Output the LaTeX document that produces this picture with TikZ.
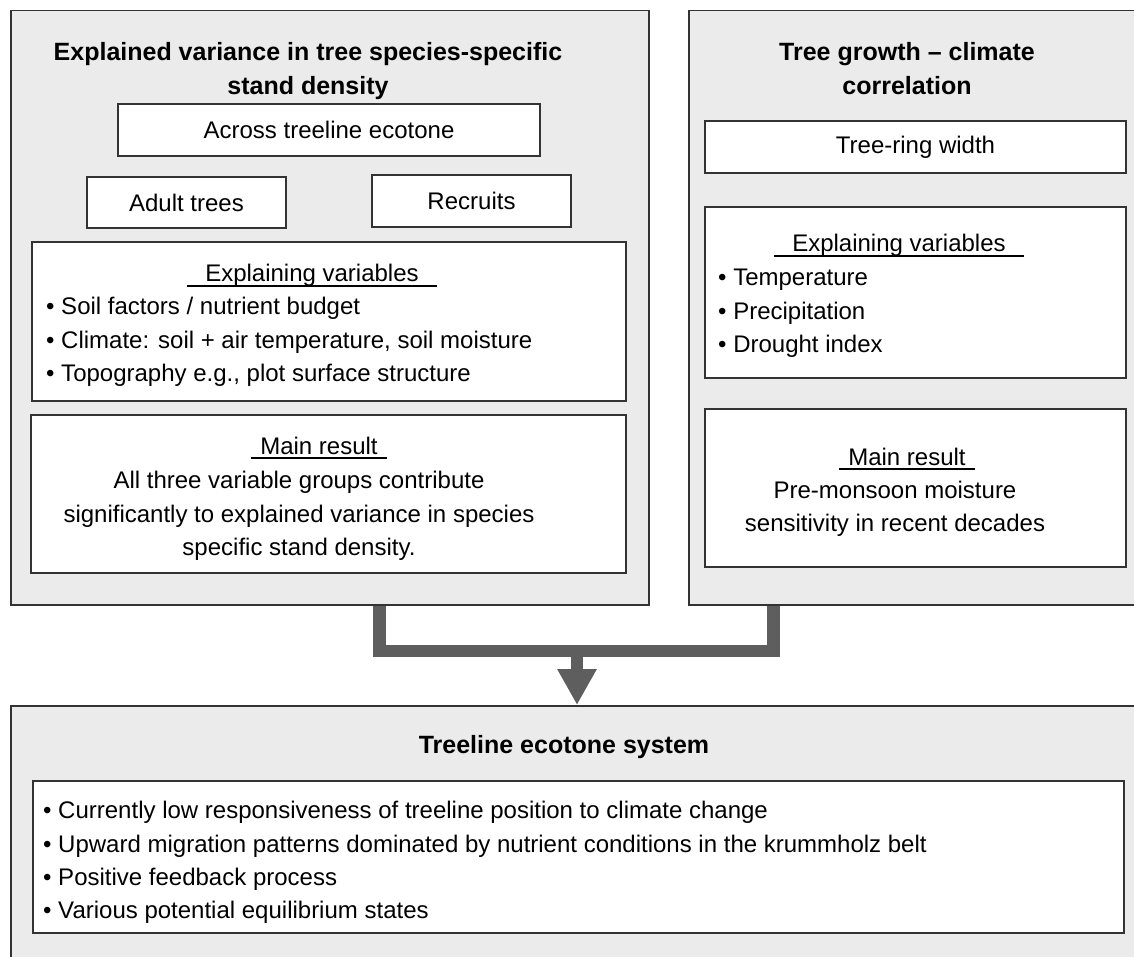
\documentclass[tikz,border=0pt]{standalone}
\usepackage{fontspec}
\setmainfont{Liberation Sans}
\usepackage{tikz}
\usetikzlibrary{arrows.meta}
\definecolor{panelgray}{HTML}{EBEBEB}
\definecolor{framegray}{HTML}{333333}
\definecolor{linkgray}{HTML}{5E5E5E}
% unterstrichene Ueberschrift mit Rand links/rechts
\newcommand{\ulabel}[2][9pt]{\setbox0\hbox{\hspace*{#1}#2\hspace*{#1}}\rlap{\rule[-5pt]{\wd0}{1.8pt}}\box0}

\begin{document}
\begin{tikzpicture}[x=1pt, y=-1pt,
    panel/.style={draw=framegray, line width=1.5pt, fill=panelgray, anchor=north west, inner sep=0pt},
    box/.style={draw=framegray, line width=2pt, fill=white, inner sep=0pt, font=\fontsize{24}{33}\selectfont},
    title/.style={font=\fontsize{25}{34}\selectfont\bfseries, align=center},
    head/.style={font=\fontsize{24}{33}\selectfont, anchor=base, inner sep=0pt},
    txt/.style={font=\fontsize{24}{33.3}\selectfont, align=left, anchor=west, inner sep=0pt},
    body/.style={font=\fontsize{24}{33.5}\selectfont, align=center, inner sep=0pt},
    link/.style={draw=linkgray, line width=12.5pt}]
    \useasboundingbox (0,0) rectangle (1134,957);
    \clip (0,0) rectangle (1134,957);

    % Panels
    \node[panel, minimum width=638pt, minimum height=594pt] (dens) at (10,10) {};
    \node[panel, minimum width=480pt, minimum height=594pt] (ring) at (688,10) {};
    \node[panel, minimum width=1150pt, minimum height=280pt] (sys) at (10,705) {};

    % linkes Panel
    \node[title] (denstitle) at (308,71.5) {Explained variance in tree species-specific\\stand density};
    \node[box, minimum width=422pt, minimum height=52pt] (across) at (329,130) {Across treeline ecotone};
    \node[box, minimum width=199pt, minimum height=51pt] (adult) at (186.5,202.5) {Adult trees};
    \node[box, minimum width=199pt, minimum height=52pt] (recruit) at (471.5,201) {Recruits};
    \node[box, minimum width=594pt, minimum height=159pt] (densvar) at (329,321.5) {};
    \node[head] (densvarhead) at (312,282) {\ulabel[18pt]{Explaining variables}};
    \node[txt] (densvarlist) at (46,342) {• Soil factors / nutrient budget\\• Climate: soil + air temperature, soil moisture\\• Topography e.g., plot surface structure};
    \node[box, minimum width=595pt, minimum height=158pt] (densres) at (328.5,494) {};
    \node[head] (densreshead) at (319,454) {\ulabel{Main result}};
    \node[body] (densrestext) at (299,516) {All three variable groups contribute\\significantly to explained variance in species\\specific stand density.};

    % rechtes Panel
    \node[title] (ringtitle) at (907,68.5) {Tree growth -- climate\\correlation};
    \node[box, minimum width=421pt, minimum height=52pt] (trw) at (915.5,147) {Tree-ring width};
    \node[box, minimum width=421pt, minimum height=171pt] (ringvar) at (915.5,292.5) {};
    \node[head] (ringvarhead) at (899,252) {\ulabel[18pt]{Explaining variables}};
    \node[txt, font=\fontsize{24}{33.5}\selectfont] (ringvarlist) at (718,313.5) {• Temperature\\• Precipitation\\• Drought index};
    \node[box, minimum width=421pt, minimum height=158pt] (ringres) at (915.5,488) {};
    \node[head] (ringreshead) at (907,465) {\ulabel{Main result}};
    \node[body] (ringrestext) at (895,509) {Pre-monsoon moisture\\sensitivity in recent decades};

    % unteres Panel
    \node[title] (systitle) at (564,747) {Treeline ecotone system};
    \node[box, minimum width=1091pt, minimum height=152pt] (sysbox) at (578.5,857) {};
    \node[txt] (syslist) at (43,862.5) {• Currently low responsiveness of treeline position to climate change\\• Upward migration patterns dominated by nutrient conditions in the krummholz belt\\• Positive feedback process\\• Various potential equilibrium states};

    % Verbindung
    \coordinate (lfoot) at (379.5,651);
    \coordinate (rfoot) at (773.5,651);
    \coordinate (knot) at (577,651);
    \draw[link] (dens.south -| lfoot) -- (lfoot) -- (rfoot) -- (ring.south -| rfoot);
    \draw[link, -{Triangle[width=37pt, length=36pt]}] (knot) -- (knot |- sys.north);
\end{tikzpicture}
\end{document}
